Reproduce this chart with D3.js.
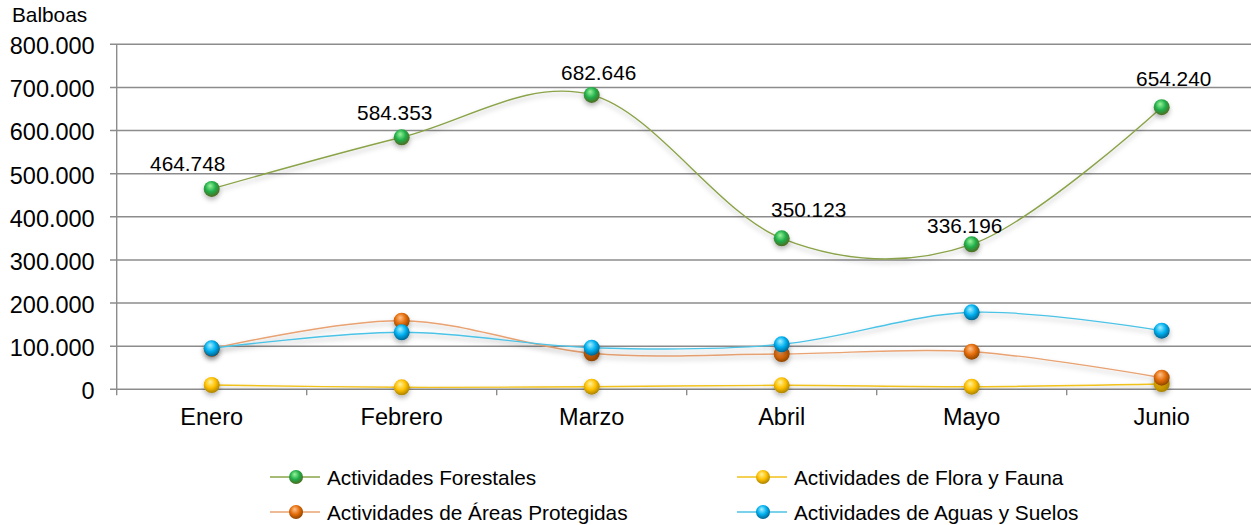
<!DOCTYPE html>
<html>
<head>
<meta charset="utf-8">
<script src="https://cdn.jsdelivr.net/npm/d3@7"></script>
<style>
  body { margin: 0; background: #fff; }
  svg { display: block; font-family: "Liberation Sans", Arial, sans-serif; }
</style>
</head>
<body>
<div id="chart"></div>
<script>
// data
const months = ["Enero", "Febrero", "Marzo", "Abril", "Mayo", "Junio"];
const forestales = [464748, 584353, 682646, 350123, 336196, 654240];
const floraFauna = [10000, 4600, 6000, 9300, 6000, 12300];
const areasProtegidas = [94000, 159000, 83500, 81900, 87200, 26900];
const aguasSuelos = [95000, 132200, 96500, 104300, 178500, 135900];
const yTicks = [0, 100000, 200000, 300000, 400000, 500000, 600000, 700000, 800000];
// manual nudges for the value labels on Forestales
const labelDx = [-24, -7, 7, 27, -7, 12];
const labelDy = [-18, -17, -15, -21, -11, -21];

const series = [
  { name: "Actividades Forestales", values: forestales, line: "#8aa348", c0: "#9af59a", c1: "#1fae4a", c2: "#4f6a22", labels: true },
  { name: "Actividades de Flora y Fauna", values: floraFauna, line: "#f2c21a", c0: "#fff3a0", c1: "#ffc000", c2: "#a98200" },
  { name: "Actividades de Áreas Protegidas", values: areasProtegidas, line: "#e9a272", c0: "#ffc48e", c1: "#e46c0a", c2: "#8f4500" },
  { name: "Actividades de Aguas y Suelos", values: aguasSuelos, line: "#4cc3e6", c0: "#a6f0ff", c1: "#00b0f0", c2: "#00638f" }
];

const width = 1251, height = 525;
const plotLeft = 116.7, plotRight = 1256.7, plotTop = 44.3, plotBottom = 389.3;

const svg = d3.select("#chart").append("svg")
  .attr("width", width)
  .attr("height", height);

const defs = svg.append("defs");
const shadow = defs.append("filter").attr("id", "shadow")
  .attr("x", "-50%").attr("y", "-50%").attr("width", "200%").attr("height", "200%");
shadow.append("feDropShadow")
  .attr("dx", 0).attr("dy", 3).attr("stdDeviation", 2.5)
  .attr("flood-color", "#000").attr("flood-opacity", 0.28);

series.forEach((s, i) => {
  const g = defs.append("radialGradient").attr("id", "ball" + i)
    .attr("cx", "45%").attr("cy", "40%").attr("r", "60%").attr("fx", "40%").attr("fy", "30%");
  g.append("stop").attr("offset", "0%").attr("stop-color", s.c0);
  g.append("stop").attr("offset", "55%").attr("stop-color", s.c1);
  g.append("stop").attr("offset", "100%").attr("stop-color", s.c2);
});

const x = d3.scaleBand().domain(months).range([plotLeft, plotRight]);
const cx = m => x(m) + x.bandwidth() / 2;
const y = d3.scaleLinear().domain([0, 800000]).range([plotBottom, plotTop]);

const fmt = v => d3.format(",")(v).replace(/,/g, ".");

// grid lines
svg.append("g")
  .selectAll("line")
  .data(yTicks)
  .join("line")
  .attr("x1", 110).attr("x2", plotRight)
  .attr("y1", d => y(d)).attr("y2", d => y(d))
  .attr("stroke", "#8c8c8c")
  .attr("stroke-width", 1.4);

// y axis
const yAxis = svg.append("g")
  .attr("transform", `translate(${plotLeft},0)`)
  .call(d3.axisLeft(y).tickValues(yTicks).tickSize(0).tickPadding(22).tickFormat(fmt));
yAxis.select(".domain").remove();
yAxis.selectAll("text")
  .attr("font-size", "23.5px")
  .attr("font-family", "Liberation Sans, Arial, sans-serif")
  .attr("fill", "#000")
  .attr("dy", "0.4em");

svg.append("line")
  .attr("x1", plotLeft).attr("x2", plotLeft)
  .attr("y1", plotTop).attr("y2", plotBottom + 6)
  .attr("stroke", "#8c8c8c").attr("stroke-width", 1.4);

// x axis
const xAxis = svg.append("g")
  .attr("transform", `translate(0,${plotBottom})`)
  .call(d3.axisBottom(x).tickSize(0).tickPadding(0));
xAxis.select(".domain").remove();
xAxis.selectAll("text")
  .attr("font-size", "23.5px")
  .attr("font-family", "Liberation Sans, Arial, sans-serif")
  .attr("fill", "#000")
  .attr("y", 36)
  .attr("dy", null);

svg.append("g")
  .selectAll("line")
  .data(months.slice(1))
  .join("line")
  .attr("x1", d => x(d)).attr("x2", d => x(d))
  .attr("y1", plotBottom).attr("y2", plotBottom + 6)
  .attr("stroke", "#8c8c8c").attr("stroke-width", 1.4);

svg.append("text")
  .attr("x", 12).attr("y", 22)
  .attr("font-size", "20.8px")
  .attr("fill", "#000")
  .text("Balboas");

// series
const line = d3.line()
  .x((d, i) => cx(months[i]))
  .y(d => y(d))
  .curve(d3.curveCardinal.tension(0));

series.forEach((s, si) => {
  const g = svg.append("g");
  g.append("path")
    .datum(s.values)
    .attr("fill", "none")
    .attr("stroke", s.line)
    .attr("stroke-width", 1.4)
    .attr("filter", "url(#shadow)")
    .attr("d", line);
  g.selectAll("circle")
    .data(s.values)
    .join("circle")
    .attr("cx", (d, i) => cx(months[i]))
    .attr("cy", d => y(d))
    .attr("r", 8)
    .attr("fill", `url(#ball${si})`)
    .attr("filter", "url(#shadow)");
  if (s.labels) {
    g.selectAll("text")
      .data(s.values)
      .join("text")
      .attr("x", (d, i) => cx(months[i]) + labelDx[i])
      .attr("y", (d, i) => y(d) + labelDy[i])
      .attr("text-anchor", "middle")
      .attr("font-size", "20.8px")
      .attr("fill", "#000")
      .text(fmt);
  }
});

// legend
const legendPos = [
  { x: 270, y: 477 },
  { x: 737, y: 477 },
  { x: 270, y: 512 },
  { x: 737, y: 512 }
];
series.forEach((s, si) => {
  const p = legendPos[si];
  const lg = svg.append("g").attr("transform", `translate(${p.x},${p.y})`);
  lg.append("line")
    .attr("x1", 0).attr("x2", 50)
    .attr("stroke", s.line).attr("stroke-width", 1.4);
  lg.append("circle")
    .attr("cx", 26).attr("r", 7)
    .attr("fill", `url(#ball${si})`);
  lg.append("text")
    .attr("x", 57).attr("y", 7.5)
    .attr("font-size", "20.8px")
    .attr("fill", "#000")
    .text(s.name);
});
</script>
</body>
</html>
